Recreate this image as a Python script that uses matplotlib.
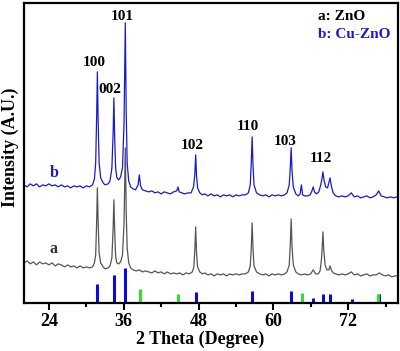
import matplotlib
matplotlib.use('Agg')

import matplotlib.pyplot as plt
from matplotlib.ticker import MultipleLocator

plt.rcParams['font.family'] = ['Liberation Serif', 'DejaVu Serif']
plt.rcParams['font.weight'] = 'bold'

# pattern a: ZnO (2theta, intensity a.u.)
curve_a = [
    (20.0, 40), (20.5, 42), (21.0, 39), (21.5, 41), (22.0, 38), (22.5, 41), (23.0, 39),
    (23.5, 40), (24.0, 38), (24.5, 40), (25.0, 37), (25.5, 39), (26.0, 38), (26.5, 36),
    (27.0, 38), (27.5, 36), (28.0, 37), (28.5, 35), (29.0, 37), (29.5, 35), (30.0, 36),
    (30.5, 35), (31.0, 36), (31.3, 40), (31.5, 48), (31.65, 80), (31.77, 115), (31.9, 80),
    (32.05, 50), (32.3, 40), (32.7, 36), (33.0, 34), (33.5, 35), (33.8, 37), (34.1, 45),
    (34.3, 75), (34.42, 103), (34.55, 72), (34.7, 46), (34.9, 40), (35.2, 39), (35.5, 41),
    (35.8, 48), (36.05, 80), (36.25, 155), (36.4, 90), (36.55, 55), (36.8, 40), (37.1, 35),
    (37.5, 33), (38.0, 32), (38.5, 33), (39.0, 31), (39.5, 32), (40.0, 31), (40.5, 30),
    (41.0, 32), (41.5, 30), (42.0, 31), (42.5, 29), (43.0, 31), (43.5, 29), (44.0, 30),
    (44.5, 29), (45.0, 30), (45.5, 28), (46.0, 30), (46.5, 29), (47.0, 31), (47.25, 36),
    (47.4, 52), (47.54, 76), (47.68, 50), (47.85, 36), (48.2, 31), (48.6, 29), (49.0, 30),
    (49.5, 28), (50.0, 29), (50.5, 27), (51.0, 29), (51.5, 28), (52.0, 29), (52.5, 27),
    (53.0, 29), (53.5, 28), (54.0, 29), (54.5, 28), (55.0, 29), (55.5, 29), (56.0, 31),
    (56.3, 37), (56.46, 55), (56.6, 80), (56.74, 54), (56.9, 37), (57.3, 31), (57.8, 29),
    (58.3, 28), (58.8, 29), (59.3, 27), (59.8, 29), (60.3, 28), (60.8, 29), (61.3, 28),
    (61.8, 29), (62.2, 31), (62.55, 38), (62.72, 58), (62.86, 84), (63.0, 56), (63.2, 38),
    (63.6, 31), (64.0, 29), (64.5, 28), (65.0, 29), (65.5, 28), (66.0, 29), (66.4, 33),
    (66.8, 29), (67.2, 29), (67.5, 32), (67.7, 42), (67.83, 55), (67.96, 71), (68.1, 52),
    (68.3, 38), (68.6, 33), (68.9, 33), (69.1, 37), (69.3, 33), (69.6, 30), (70.0, 29),
    (70.5, 28), (71.0, 29), (71.5, 28), (72.0, 29), (72.5, 31), (73.0, 28), (73.5, 29),
    (74.0, 27), (74.5, 28), (75.0, 29), (75.5, 27), (76.0, 28), (76.5, 28), (77.0, 30),
    (77.5, 28), (78.0, 27), (78.5, 28), (79.0, 26), (79.5, 27), (80.0, 27),
]

# pattern b: Cu-ZnO
curve_b = [
    (20.0, 118), (20.5, 116), (21.0, 119), (21.5, 117), (22.0, 119), (22.5, 116), (23.0, 118),
    (23.5, 117), (24.0, 119), (24.5, 117), (25.0, 118), (25.5, 116), (26.0, 118), (26.5, 116),
    (27.0, 117), (27.5, 115), (28.0, 117), (28.5, 116), (29.0, 117), (29.5, 115), (30.0, 117),
    (30.5, 116), (31.0, 118), (31.3, 124), (31.5, 140), (31.65, 185), (31.77, 231), (31.9, 180),
    (32.05, 140), (32.3, 125), (32.7, 120), (33.0, 118), (33.5, 119), (33.8, 122), (34.1, 135),
    (34.3, 170), (34.42, 205), (34.55, 165), (34.7, 135), (34.9, 125), (35.2, 123), (35.5, 126),
    (35.8, 135), (36.05, 180), (36.25, 280), (36.4, 190), (36.55, 140), (36.8, 122), (37.1, 116),
    (37.5, 114), (37.9, 113), (38.3, 118), (38.5, 128), (38.7, 117), (39.0, 113), (39.5, 112),
    (40.0, 111), (40.5, 112), (41.0, 110), (41.5, 111), (42.0, 109), (42.5, 111), (43.0, 110),
    (43.5, 109), (44.0, 111), (44.5, 112), (44.7, 116), (44.9, 111), (45.3, 110), (45.8, 109),
    (46.3, 110), (46.8, 110), (47.2, 116), (47.4, 128), (47.54, 148), (47.68, 127), (47.85, 115),
    (48.2, 110), (48.6, 108), (49.0, 109), (49.5, 107), (50.0, 109), (50.5, 107), (51.0, 108),
    (51.5, 106), (52.0, 108), (52.5, 107), (53.0, 108), (53.5, 106), (54.0, 108), (54.5, 107),
    (55.0, 108), (55.5, 108), (56.0, 110), (56.3, 118), (56.46, 140), (56.6, 166), (56.74, 138),
    (56.9, 118), (57.3, 110), (57.8, 108), (58.3, 107), (58.8, 108), (59.3, 106), (59.8, 108),
    (60.3, 107), (60.8, 108), (61.3, 107), (61.8, 108), (62.2, 110), (62.55, 118), (62.72, 135),
    (62.86, 155), (63.0, 132), (63.2, 116), (63.6, 109), (64.0, 107), (64.3, 109), (64.5, 118),
    (64.7, 108), (65.0, 107), (65.5, 107), (65.9, 108), (66.2, 112), (66.4, 116), (66.6, 111),
    (66.9, 109), (67.3, 111), (67.6, 118), (67.8, 124), (67.96, 131), (68.15, 122), (68.4, 116),
    (68.7, 115), (68.9, 120), (69.1, 125), (69.3, 117), (69.6, 110), (70.0, 107), (70.5, 106),
    (71.0, 107), (71.5, 106), (72.0, 107), (72.5, 110), (73.0, 106), (73.5, 107), (74.0, 105),
    (74.5, 106), (75.0, 107), (75.5, 105), (76.0, 106), (76.5, 108), (76.9, 112), (77.3, 107),
    (77.8, 106), (78.3, 105), (78.8, 106), (79.3, 105), (79.8, 106), (80.0, 105),
]

# reference stick patterns
ref_zno_pos = [31.77, 34.42, 36.25, 47.54, 56.6, 62.86, 66.38, 67.96, 69.1, 72.56, 76.95]
ref_zno_h = [19, 28, 35, 11, 12, 12, 5, 9, 9, 4, 9]
ref_cu_pos = [38.6, 44.7, 64.6, 76.8]
ref_cu_h = [14, 9, 10, 9]

# hkl labels
hkl = ['100', '002', '101', '102', '110', '103', '112']
hkl_x = [31.25, 33.8, 35.7, 46.95, 55.9, 61.9, 67.7]
hkl_y = [240, 213, 286, 157, 176, 161, 144]

fig = plt.figure(figsize=(4.0, 3.51), dpi=100)
ax = fig.add_axes([0.06, 0.137, 0.935, 0.855])

xa, ya = zip(*curve_a)
xb, yb = zip(*curve_b)
ax.plot(xa, ya, color='#555555', lw=0.9)
ax.plot(xb, yb, color='#1a1acc', lw=0.9)

ax.vlines(ref_zno_pos, 0, ref_zno_h, color='#0a0ae0', lw=2.2)
ax.vlines(ref_cu_pos, 0, ref_cu_h, color='#33dd33', lw=2.2)

for lab, x, y in zip(hkl, hkl_x, hkl_y):
    ax.text(x, y, lab, ha='center', va='center', fontsize=11, fontweight='bold')

ax.text(24.8, 130, 'b', color='#1a1acc', ha='center', va='center', fontsize=11.5, fontweight='bold')
ax.text(24.8, 54, 'a', color='#333333', ha='center', va='center', fontsize=11.5, fontweight='bold')

ax.text(0.786, 0.953, 'a: ZnO', transform=ax.transAxes, ha='left', va='center',
        fontsize=11, fontweight='bold')
ax.text(0.786, 0.893, 'b: Cu-ZnO', transform=ax.transAxes, ha='left', va='center',
        fontsize=11, fontweight='bold', color='#1a1acc')

ax.set_xlim(20, 80)
ax.set_ylim(0, 300)
ax.xaxis.set_major_locator(MultipleLocator(12))
ax.xaxis.set_minor_locator(MultipleLocator(6))
ax.set_xticks([24, 36, 48, 60, 72])
ax.set_yticks([])
ax.tick_params(axis='x', which='major', length=5, width=1.5, labelsize=13, pad=2)
ax.tick_params(axis='x', which='minor', length=3, width=1.5)
for s in ax.spines.values():
    s.set_linewidth(1.6)

ax.set_xlabel('2 Theta (Degree)', fontsize=13, fontweight='bold', labelpad=0)
ax.xaxis.set_label_coords(0.47, -0.092)
ax.set_ylabel('Intensity (A.U.)', fontsize=13, fontweight='bold')
ax.yaxis.set_label_coords(-0.014, 0.52)

fig.savefig('out.png', dpi=100)
